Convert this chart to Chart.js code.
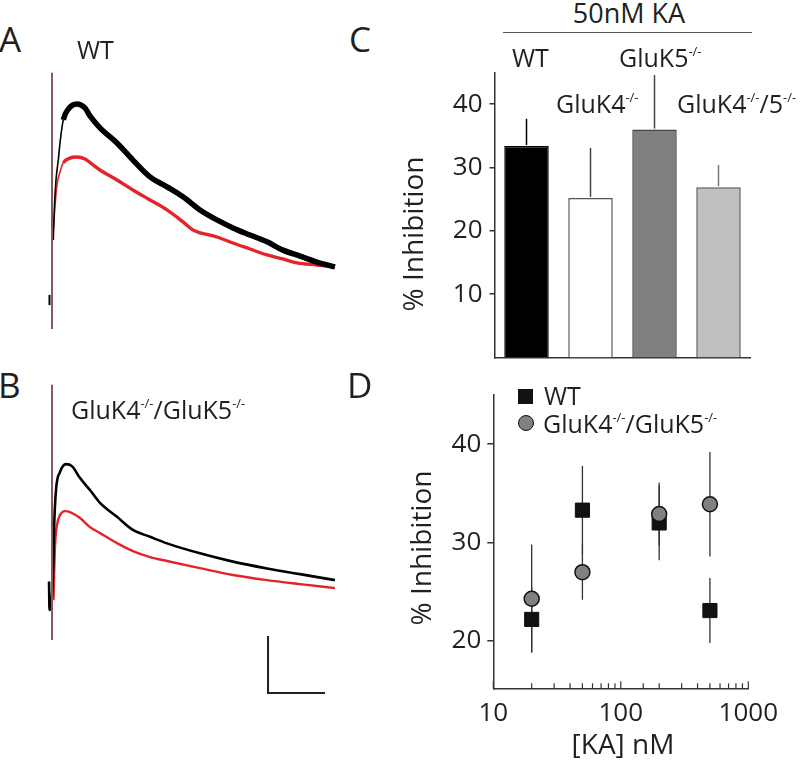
<!DOCTYPE html>
<html>
<head>
<meta charset="utf-8">
<script src="https://cdn.jsdelivr.net/npm/chart.js@4.4.0/dist/chart.umd.min.js"></script>
<style>
html, body { margin: 0; padding: 0; background: #fff; }
#fig { position: relative; width: 800px; height: 760px; overflow: hidden; }
canvas { position: absolute; }
.t { position: absolute; font-family: 'Open Sans', sans-serif; font-size: 25px; line-height: 25px; color: #231f20; white-space: nowrap; }
.p { font-size: 35px; line-height: 35px; }
.ti { font-size: 28px; line-height: 28px; }
.s { font-size: 13px; position: relative; top: -11px; }
.rot { transform: translate(-50%, -50%) rotate(-90deg); }
.mid { transform: translateX(-50%); }
</style>
</head>
<body>
<div id="fig">
  <canvas id="chartA" width="310" height="275" style="left:40px;top:65px"></canvas>
  <canvas id="chartB" width="310" height="330" style="left:40px;top:375px"></canvas>
  <canvas id="chartC" width="400" height="330" style="left:390px;top:50px"></canvas>
  <canvas id="chartD" width="400" height="390" style="left:390px;top:370px"></canvas>

  <div class="t p" style="left:-1px;top:21px">A</div>
  <div class="t p" style="left:349px;top:21px">C</div>
  <div class="t p" style="left:-2px;top:367px">B</div>
  <div class="t p" style="left:347px;top:367px">D</div>

  <div class="t" style="left:77px;top:37px">WT</div>
  <div class="t" style="left:71px;top:397px">GluK4<span class="s">-/-</span>/GluK5<span class="s">-/-</span></div>

  <div class="t mid" style="left:629px;top:-1px;font-size:27px;line-height:27px">50nM KA</div>
  <div style="position:absolute;left:503px;top:32px;width:249px;border-top:1.5px solid #555"></div>
  <div class="t" style="left:512px;top:45px">WT</div>
  <div class="t" style="left:619px;top:45px">GluK5<span class="s">-/-</span></div>
  <div class="t" style="left:556px;top:91px">GluK4<span class="s">-/-</span></div>
  <div class="t" style="left:677px;top:91px">GluK4<span class="s">-/-</span>/5<span class="s">-/-</span></div>
  <div class="t ti rot" style="left:412px;top:234px">% Inhibition</div>

  <div style="position:absolute;left:518px;top:389px;width:15px;height:15px;background:#111"></div>
  <div class="t" style="left:544px;top:383px">WT</div>
  <div style="position:absolute;left:518px;top:415px;width:16px;height:16px;box-sizing:border-box;border-radius:50%;background:#808080;border:1.5px solid #111"></div>
  <div class="t" style="left:543px;top:411px">GluK4<span class="s">-/-</span>/GluK5<span class="s">-/-</span></div>
  <div class="t ti rot" style="left:420px;top:548px">% Inhibition</div>
  <div class="t ti mid" style="left:623px;top:729px">[KA] nM</div>
</div>

<script>
// ---- traces (time in ms, current in pA) ----
const tBlackA = [1.1, 2.0, 3.5, 5.5, 7.5, 9.9, 14.3, 21.7, 28.9, 33.3, 42.1, 57.0, 71.0, 86.0, 100.9, 114.9, 129.8, 144.7, 158.7, 173.6, 188.6, 202.6, 217.5, 232.4, 248.2];
const iBlackA = [21.0, 31.6, 42.1, 49.1, 56.8, 63.2, 67.0, 68.8, 67.4, 64.6, 60.4, 55.1, 49.1, 43.2, 39.7, 36.2, 31.6, 28.1, 25.3, 22.8, 20.4, 17.5, 15.4, 13.3, 11.6];
const tRedA = [0.9, 4.1, 7.0, 9.9, 15.8, 21.7, 28.9, 36.0, 42.1, 57.0, 71.0, 86.0, 100.9, 114.9, 123.7, 144.7, 158.7, 173.6, 188.6, 202.6, 214.9, 232.4, 248.2];
const iRedA = [23.5, 39.7, 44.9, 48.1, 49.8, 50.2, 49.5, 47.4, 45.6, 42.1, 38.6, 35.1, 31.6, 27.4, 24.6, 22.1, 20.0, 17.9, 15.8, 14.4, 13.0, 12.3, 11.6];
const tPreA = [-2.2, -2.2];
const iPreA = [1.8, -1.8];
const tArtA = [0, 0];
const iArtA = [79.7, -10.2];

const tBlackB = [-2.6, -2.2, 1.3, 1.8, 3.5, 7.0, 12.3, 17.5, 24.6, 33.3, 42.1, 57.0, 71.0, 86.0, 100.9, 129.8, 158.7, 188.6, 217.5, 248.2];
const iBlackB = [10, 0, 17.5, 28.1, 42.1, 48.4, 51.2, 50.5, 46.3, 42.1, 37.6, 32.7, 28.1, 25.7, 23.4, 19.9, 17.0, 14.6, 12.6, 10.5];
const tRedB = [1.3, 2.6, 4.4, 7.0, 11.4, 15.8, 24.6, 33.3, 42.1, 57.0, 71.0, 86.0, 100.9, 129.8, 158.7, 188.6, 217.5, 248.2];
const iRedB = [3.5, 22.1, 29.8, 33.3, 34.7, 34.4, 32.3, 29.1, 27.0, 23.5, 20.7, 18.6, 17.2, 14.7, 12.3, 10.5, 9.1, 7.7];
const tArtB = [0, 0];
const iArtB = [79, -10.5];
const tScaleBar = [189.5, 189.5, 239.5];   // 50 ms
const iScaleBar = [-9.1, -29.1, -29.1];    // 20 pA

// ---- panel C ----
const barLabels = ['WT', 'GluK4-/-', 'GluK5-/-', 'GluK4-/-/5-/-'];
const barMeans = [33.4, 25.2, 36.0, 26.9];
const barErrors = [4.3, 7.9, 8.6, 3.5];
const yTicksC = [10, 20, 30, 40];

// ---- panel D ----
const kaConc = [20, 50, 200, 500];
const wtMean = [22.2, 33.3, 32.0, 23.1];
const wtSem = [3.3, 4.5, 3.8, 3.3];
const dkoMean = [24.3, 27.0, 32.9, 33.9];
const dkoSem = [5.5, 2.8, 3.2, 5.3];
const yTicksD = [20, 30, 40];

Chart.defaults.font.family = "'Open Sans', sans-serif";
Chart.defaults.color = '#231f20';

const pairs = (xs, ys) => xs.map((x, i) => ({ x: x, y: ys[i] }));
const noUi = { legend: { display: false }, tooltip: { enabled: false } };
// noisy part of a trace looks thicker than its fast rise
const noisyWidth = (thin, thick) => ctx => ctx.p0.parsed.x < 9 ? thin : thick;

function traceChart(id, ymin, ymax, sets) {
  return new Chart(document.getElementById(id), {
    type: 'line',
    data: { datasets: sets },
    options: {
      responsive: false, animation: false, events: [],
      plugins: noUi,
      scales: {
        x: { type: 'linear', display: false, min: -10.53, max: 261.4 },
        y: { type: 'linear', display: false, min: ymin, max: ymax }
      },
      elements: { point: { radius: 0 }, line: { cubicInterpolationMode: 'monotone' } }
    }
  });
}

traceChart('chartA', -14.04, 82.46, [
  { data: pairs(tArtA, iArtA), borderColor: '#8a5a5a', borderWidth: 2, order: 0 },
  { data: pairs(tPreA, iPreA), borderColor: '#000', borderWidth: 2, order: 0 },
  { data: pairs(tBlackA, iBlackA), borderColor: '#000', borderWidth: 5.5, segment: { borderWidth: noisyWidth(1.6, 5.5) }, order: 1 },
  { data: pairs(tRedA, iRedA), borderColor: '#e3242b', borderWidth: 3.4, segment: { borderWidth: noisyWidth(1.6, 3.4) }, order: 2 }
]);

traceChart('chartB', -33.3, 82.46, [
  { data: pairs(tArtB, iArtB), borderColor: '#8a5a5a', borderWidth: 2, order: 0 },
  { data: pairs(tScaleBar, iScaleBar), borderColor: '#231f20', borderWidth: 2, cubicInterpolationMode: 'default', tension: 0, order: 0 },
  { data: pairs(tBlackB, iBlackB), borderColor: '#000', borderWidth: 2.6, order: 1 },
  { data: pairs(tRedB, iRedB), borderColor: '#e3242b', borderWidth: 2.4, order: 2 }
]);

// upward error bars on the bars
const errColorsC = ['#000', '#444', '#444', '#777'];
const errorBarsC = {
  id: 'errorBarsC',
  afterDatasetsDraw(chart) {
    const { ctx, scales: { x, y } } = chart;
    ctx.save();
    ctx.lineWidth = 1.5;
    barMeans.forEach((m, i) => {
      const px = x.getPixelForValue(i);
      ctx.strokeStyle = errColorsC[i];
      ctx.beginPath();
      ctx.moveTo(px, y.getPixelForValue(m) - 1);
      ctx.lineTo(px, y.getPixelForValue(m + barErrors[i]));
      ctx.stroke();
    });
    ctx.restore();
  }
};

new Chart(document.getElementById('chartC'), {
  type: 'bar',
  data: {
    labels: barLabels,
    datasets: [{
      data: barMeans,
      backgroundColor: ['#000', '#fff', '#808080', '#c0c0c0'],
      borderColor: ['#000', '#555', '#444', '#555'],
      borderWidth: 1.5,
      categoryPercentage: 1,
      barPercentage: 0.695
    }]
  },
  options: {
    responsive: false, animation: false, events: [],
    layout: { padding: { top: 21, right: 39.5, left: 0, bottom: 0 } },
    plugins: noUi,
    scales: {
      x: {
        grid: { display: true, drawOnChartArea: false, drawTicks: false },
        ticks: { display: false },
        border: { color: '#333', width: 1.5 },
        afterFit: s => { s.height = 15.5; }
      },
      y: {
        min: 0, max: 45,
        afterBuildTicks: s => { s.ticks = yTicksC.map(v => ({ value: v })); },
        grid: { drawOnChartArea: false, tickLength: 5, color: '#333', lineWidth: 1.5 },
        border: { color: '#333', width: 1.5 },
        ticks: { padding: 7, font: { size: 26 } },
        afterFit: s => { s.width = 104.5; }
      }
    }
  },
  plugins: [errorBarsC]
});

// error bars under the markers, inward ticks on the log axis
const errorBarsD = {
  id: 'errorBarsD',
  beforeDatasetsDraw(chart) {
    const { ctx, scales: { x, y } } = chart;
    ctx.save();
    ctx.lineWidth = 1.3;
    ctx.strokeStyle = '#333';
    [[wtMean, wtSem], [dkoMean, dkoSem]].forEach(([mean, sem]) => {
      kaConc.forEach((c, i) => {
        const px = x.getPixelForValue(c);
        ctx.beginPath();
        ctx.moveTo(px, y.getPixelForValue(mean[i] - sem[i]));
        ctx.lineTo(px, y.getPixelForValue(mean[i] + sem[i]));
        ctx.stroke();
      });
    });
    ctx.restore();
  },
  afterDraw(chart) {
    const s = chart.scales.x, ctx = chart.ctx;
    ctx.save();
    ctx.strokeStyle = '#333';
    ctx.lineWidth = 1.2;
    s.ticks.forEach(t => {
      const px = s.getPixelForValue(t.value);
      const e = Math.round(Math.log10(t.value));
      const len = Math.abs(t.value - Math.pow(10, e)) < 1e-9 ? 7 : 5;
      ctx.beginPath();
      ctx.moveTo(px, s.top);
      ctx.lineTo(px, s.top - len);
      ctx.stroke();
    });
    ctx.restore();
  }
};

new Chart(document.getElementById('chartD'), {
  type: 'scatter',
  data: {
    datasets: [
      { label: 'GluK4-/-/GluK5-/-', data: pairs(kaConc, dkoMean), pointStyle: 'circle', pointRadius: 7.5,
        backgroundColor: '#808080', borderColor: '#111', borderWidth: 1.5, order: 0 },
      { label: 'WT', data: pairs(kaConc, wtMean), pointStyle: 'rect', pointRadius: 10,
        backgroundColor: '#111', borderColor: '#111', borderWidth: 1, order: 1 }
    ]
  },
  options: {
    responsive: false, animation: false, events: [],
    layout: { padding: { top: 25, right: 41.7, left: 0, bottom: 0 } },
    plugins: noUi,
    scales: {
      x: {
        type: 'logarithmic', min: 10, max: 1000,
        grid: { display: true, drawOnChartArea: false, drawTicks: false },
        border: { color: '#333', width: 1.5 },
        ticks: {
          autoSkip: false, maxRotation: 0, padding: 10, font: { size: 26 },
          callback: v => { const e = Math.round(Math.log10(v)); return Math.abs(v - Math.pow(10, e)) < 1e-9 ? String(v) : ''; }
        },
        afterFit: s => { s.height = 71.7; }
      },
      y: {
        min: 15.2, max: 45,
        afterBuildTicks: s => { s.ticks = yTicksD.map(v => ({ value: v })); },
        grid: { drawOnChartArea: false, tickLength: 6, color: '#333', lineWidth: 1.5 },
        border: { color: '#333', width: 1.5 },
        ticks: { padding: 6, font: { size: 26 } },
        afterFit: s => { s.width = 103.3; }
      }
    }
  },
  plugins: [errorBarsD]
});
</script>
</body>
</html>
